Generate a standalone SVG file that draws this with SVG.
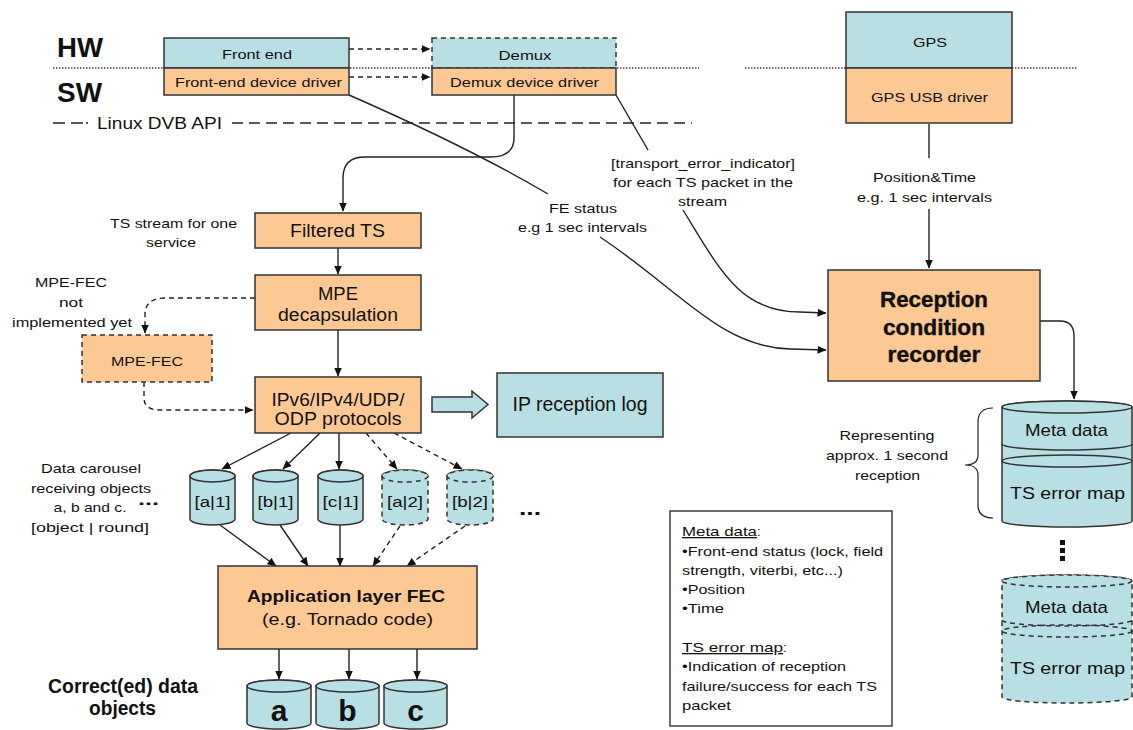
<svg xmlns="http://www.w3.org/2000/svg" width="1133" height="730" viewBox="0 0 1133 730">
  <style>
    .blue { fill: #b8dfe3; stroke: #333; stroke-width: 1.5; }
    .orange { fill: #fcc995; stroke: #333; stroke-width: 1.5; }
    .dashed { stroke-dasharray: 5 4; }
    .t { font-family: "Liberation Sans", Arial, sans-serif; fill: #111; }
    .c { text-anchor: middle; }
    .b { font-weight: bold; }
    .conn { fill: none; stroke: #222; stroke-width: 1.4; }
    .inner { fill: none; stroke: #333; stroke-width: 1.5; }
  </style>
  <defs>
    <marker id="arrow" markerWidth="9" markerHeight="8" refX="8.5" refY="4" orient="auto" markerUnits="userSpaceOnUse">
      <path d="M0,0 L9,4 L0,8 Z" fill="#111"/>
    </marker>
  </defs>

  <rect width="1133" height="730" fill="#ffffff"/>

  <!-- layer separators -->
  <g id="layers">
    <text class="t b" x="57" y="57" font-size="28" textLength="46" lengthAdjust="spacingAndGlyphs">HW</text>
    <text class="t b" x="57" y="102" font-size="28" textLength="45" lengthAdjust="spacingAndGlyphs">SW</text>
    <g stroke="#444" stroke-width="1.5" stroke-dasharray="1.5 1.5" fill="none">
      <line x1="53" y1="68" x2="699" y2="68"/>
      <line x1="745" y1="68" x2="846" y2="68"/>
      <line x1="1012" y1="68" x2="1078" y2="68"/>
    </g>
    <g stroke="#222" stroke-width="1.4" fill="none">
      <line x1="53" y1="123" x2="91" y2="123" stroke-dasharray="12 6 12 3 2 10"/>
      <line x1="232" y1="123" x2="692" y2="123" stroke-dasharray="11 6"/>
    </g>
    <text class="t" x="97" y="129" font-size="16" textLength="125" lengthAdjust="spacingAndGlyphs">Linux DVB API</text>
  </g>

  <!-- connectors -->
  <g id="connectors" class="conn">
    <path d="M349,49 L430,49" stroke-dasharray="5 4" marker-end="url(#arrow)"/>
    <path d="M349,77 L430,77" stroke-dasharray="5 4" marker-end="url(#arrow)"/>
    <path d="M514,95 L514,138 Q514,157 490,157 L365,157 Q343,157 343,178 L343,211" marker-end="url(#arrow)"/>
    <path d="M349,95 Q470,148 548,194"/>
    <path d="M600,237 C680,290 720,347 790,349 L826,350" marker-end="url(#arrow)"/>
    <path d="M616,95 L648,150"/>
    <path d="M683,210 C720,270 740,312 800,312 L826,313" marker-end="url(#arrow)"/>
    <path d="M929,124 L929,158"/>
    <path d="M929,209 L929,268" marker-end="url(#arrow)"/>
    <path d="M1040,321 L1060,321 Q1074,321 1074,336 L1074,399" marker-end="url(#arrow)"/>
    <path d="M338,248 L338,274" marker-end="url(#arrow)"/>
    <path d="M338,330 L338,376" marker-end="url(#arrow)"/>
    <path d="M255,298 L165,298 Q145,298 145,315 L145,333" stroke-dasharray="5 4" marker-end="url(#arrow)"/>
    <path d="M144,382 L144,398 Q144,410 160,410 L253,410" stroke-dasharray="5 4" marker-end="url(#arrow)"/>
    <path d="M291,433 L222,469" marker-end="url(#arrow)"/>
    <path d="M320,433 L283,469" marker-end="url(#arrow)"/>
    <path d="M339,433 L339,469" marker-end="url(#arrow)"/>
    <path d="M366,433 L397,469" stroke-dasharray="5 4" marker-end="url(#arrow)"/>
    <path d="M394,433 L462,469" stroke-dasharray="5 4" marker-end="url(#arrow)"/>
    <path d="M220,525 L276,566" marker-end="url(#arrow)"/>
    <path d="M280,525 L308,566" marker-end="url(#arrow)"/>
    <path d="M340,525 L340,566" marker-end="url(#arrow)"/>
    <path d="M400,526 L373,566" stroke-dasharray="5 4" marker-end="url(#arrow)"/>
    <path d="M465,526 L407,566" stroke-dasharray="5 4" marker-end="url(#arrow)"/>
    <path d="M279,649 L279,679" marker-end="url(#arrow)"/>
    <path d="M349,649 L349,679" marker-end="url(#arrow)"/>
    <path d="M417,649 L417,679" marker-end="url(#arrow)"/>
    <path d="M993,408 Q978,408 978,422 L978,455 Q978,465 965,465 Q978,465 978,475 L978,505 Q978,518 993,518" stroke-width="1.2"/>
  </g>

  <!-- connector labels -->
  <g id="labels" class="t c" font-size="13">
    <text x="703" y="167.5" textLength="184" lengthAdjust="spacingAndGlyphs">[transport_error_indicator]</text>
    <text x="703" y="186.5" textLength="180" lengthAdjust="spacingAndGlyphs">for each TS packet in the</text>
    <text x="702.5" y="205.5" textLength="49" lengthAdjust="spacingAndGlyphs">stream</text>
    <text x="583" y="212.5" textLength="68" lengthAdjust="spacingAndGlyphs">FE status</text>
    <text x="582.5" y="231.5" textLength="129" lengthAdjust="spacingAndGlyphs">e.g 1 sec intervals</text>
    <text x="924.5" y="181.5" textLength="103" lengthAdjust="spacingAndGlyphs">Position&amp;Time</text>
    <text x="924.5" y="201.5" textLength="135" lengthAdjust="spacingAndGlyphs">e.g. 1 sec intervals</text>
    <text x="173.5" y="227.5" textLength="127" lengthAdjust="spacingAndGlyphs">TS stream for one</text>
    <text x="171" y="246.5" textLength="50" lengthAdjust="spacingAndGlyphs">service</text>
    <text x="71" y="286.5" textLength="72" lengthAdjust="spacingAndGlyphs">MPE-FEC</text>
    <text x="71" y="306.5" textLength="24" lengthAdjust="spacingAndGlyphs">not</text>
    <text x="72" y="326.5" textLength="120" lengthAdjust="spacingAndGlyphs">implemented yet</text>
    <text x="91" y="472.5" textLength="100" lengthAdjust="spacingAndGlyphs">Data carousel</text>
    <text x="91" y="492.5" textLength="120" lengthAdjust="spacingAndGlyphs">receiving objects</text>
    <text x="90" y="511.5" textLength="73" lengthAdjust="spacingAndGlyphs">a, b and c.</text>
    <text x="90" y="531.5" textLength="118" lengthAdjust="spacingAndGlyphs">[object | round]</text>
    <text x="148.5" y="505" class="b" font-size="16" textLength="21" lengthAdjust="spacingAndGlyphs">...</text>
    <text x="530" y="515" class="b" font-size="20" textLength="22" lengthAdjust="spacingAndGlyphs">...</text>
    <text x="887" y="439.5" textLength="95" lengthAdjust="spacingAndGlyphs">Representing</text>
    <text x="887" y="459.5" textLength="122" lengthAdjust="spacingAndGlyphs">approx. 1 second</text>
    <text x="887.5" y="479.5" textLength="65" lengthAdjust="spacingAndGlyphs">reception</text>
    <text x="123" y="693" class="b" font-size="20" textLength="150" lengthAdjust="spacingAndGlyphs">Correct(ed) data</text>
    <text x="122.5" y="715" class="b" font-size="20" textLength="67" lengthAdjust="spacingAndGlyphs">objects</text>
  </g>

  <g id="front-end">
    <rect class="blue" x="164" y="38" width="185" height="30"/>
    <text class="t c" x="257" y="58.5" font-size="13" textLength="70" lengthAdjust="spacingAndGlyphs">Front end</text>
  </g>
  <g id="front-end-driver">
    <rect class="orange" x="164" y="68" width="185" height="27"/>
    <text class="t c" x="258.5" y="86.5" font-size="13" textLength="167" lengthAdjust="spacingAndGlyphs">Front-end device driver</text>
  </g>
  <g id="demux">
    <rect class="blue dashed" x="432" y="38" width="184" height="30"/>
    <text class="t c" x="525" y="59.5" font-size="13" textLength="53" lengthAdjust="spacingAndGlyphs">Demux</text>
  </g>
  <g id="demux-driver">
    <rect class="orange" x="432" y="68" width="184" height="27"/>
    <text class="t c" x="524.5" y="86.5" font-size="13" textLength="149" lengthAdjust="spacingAndGlyphs">Demux device driver</text>
  </g>
  <g id="gps">
    <rect class="blue" x="846" y="12" width="166" height="56"/>
    <text class="t c" x="930" y="46.5" font-size="13" textLength="34" lengthAdjust="spacingAndGlyphs">GPS</text>
  </g>
  <g id="gps-driver">
    <rect class="orange" x="846" y="68" width="166" height="55"/>
    <text class="t c" x="929.5" y="101.5" font-size="13" textLength="117" lengthAdjust="spacingAndGlyphs">GPS USB driver</text>
  </g>
  <g id="recorder">
    <rect class="orange" x="828" y="270" width="212" height="111"/>
    <g class="t c b" font-size="22" stroke="#111" stroke-width="0.4">
      <text x="934" y="307" textLength="108" lengthAdjust="spacingAndGlyphs">Reception</text>
      <text x="934" y="335" textLength="102" lengthAdjust="spacingAndGlyphs">condition</text>
      <text x="934" y="362" textLength="93" lengthAdjust="spacingAndGlyphs">recorder</text>
    </g>
  </g>
  <g id="filtered-ts">
    <rect class="orange" x="255" y="213" width="166" height="35"/>
    <text class="t c" x="337.5" y="237" font-size="18" textLength="95" lengthAdjust="spacingAndGlyphs">Filtered TS</text>
  </g>
  <g id="mpe">
    <rect class="orange" x="255" y="275" width="166" height="55"/>
    <text class="t c" x="338" y="299.5" font-size="18" textLength="40" lengthAdjust="spacingAndGlyphs">MPE</text>
    <text class="t c" x="338" y="320.5" font-size="18" textLength="120" lengthAdjust="spacingAndGlyphs">decapsulation</text>
  </g>
  <g id="mpe-fec">
    <rect class="orange dashed" x="82" y="335" width="130" height="47"/>
    <text class="t c" x="147" y="365.5" font-size="13" textLength="72" lengthAdjust="spacingAndGlyphs">MPE-FEC</text>
  </g>
  <g id="ip-protocols">
    <rect class="orange" x="255" y="377" width="166" height="56"/>
    <text class="t c" x="338" y="406" font-size="18" textLength="133" lengthAdjust="spacingAndGlyphs">IPv6/IPv4/UDP/</text>
    <text class="t c" x="338" y="425" font-size="18" textLength="127" lengthAdjust="spacingAndGlyphs">ODP protocols</text>
  </g>
  <g id="ip-log-arrow">
    <polygon class="blue" points="432,397 472,397 472,391 488,404.5 472,418 472,412 432,412" stroke-width="1.3"/>
  </g>
  <g id="ip-log">
    <rect class="blue" x="497" y="373" width="166" height="64"/>
    <text class="t c" x="580" y="411" font-size="20" textLength="135" lengthAdjust="spacingAndGlyphs">IP reception log</text>
  </g>

  <!-- carousel objects -->
  <g id="obj-a1">
    <path class="blue" d="M190,476 A22.5,6 0 0 1 235,476 L235,519 A22.5,6 0 0 1 190,519 Z"/>
    <ellipse class="blue" cx="212.5" cy="476" rx="22.5" ry="6"/>
    <text class="t c" x="212.5" y="507" font-size="14" textLength="36" lengthAdjust="spacingAndGlyphs">[a|1]</text>
  </g>
  <g id="obj-b1">
    <path class="blue" d="M253,476 A22.5,6 0 0 1 298,476 L298,519 A22.5,6 0 0 1 253,519 Z"/>
    <ellipse class="blue" cx="275.5" cy="476" rx="22.5" ry="6"/>
    <text class="t c" x="275.5" y="507" font-size="14" textLength="36" lengthAdjust="spacingAndGlyphs">[b|1]</text>
  </g>
  <g id="obj-c1">
    <path class="blue" d="M318,476 A22.5,6 0 0 1 363,476 L363,519 A22.5,6 0 0 1 318,519 Z"/>
    <ellipse class="blue" cx="340.5" cy="476" rx="22.5" ry="6"/>
    <text class="t c" x="340.5" y="507" font-size="14" textLength="36" lengthAdjust="spacingAndGlyphs">[c|1]</text>
  </g>
  <g id="obj-a2">
    <path class="blue dashed" d="M382,476 A23,6 0 0 1 428,476 L428,519 A23,6 0 0 1 382,519 Z"/>
    <ellipse class="blue dashed" cx="405" cy="476" rx="23" ry="6"/>
    <text class="t c" x="405" y="507" font-size="14" textLength="36" lengthAdjust="spacingAndGlyphs">[a|2]</text>
  </g>
  <g id="obj-b2">
    <path class="blue dashed" d="M447,476 A23,6 0 0 1 493,476 L493,519 A23,6 0 0 1 447,519 Z"/>
    <ellipse class="blue dashed" cx="470" cy="476" rx="23" ry="6"/>
    <text class="t c" x="470" y="507" font-size="14" textLength="36" lengthAdjust="spacingAndGlyphs">[b|2]</text>
  </g>

  <g id="app-fec">
    <rect class="orange" x="218" y="566" width="259" height="83"/>
    <text class="t c b" x="346" y="602" font-size="17" textLength="198" lengthAdjust="spacingAndGlyphs">Application layer FEC</text>
    <text class="t c" x="347.5" y="625" font-size="17" textLength="171" lengthAdjust="spacingAndGlyphs">(e.g. Tornado code)</text>
  </g>

  <!-- corrected objects -->
  <g id="out-a">
    <path class="blue" d="M247,686 A32,6 0 0 1 311,686 L311,723 A32,6 0 0 1 247,723 Z"/>
    <ellipse class="blue" cx="279" cy="686" rx="32" ry="6"/>
    <text class="t c b" x="279" y="721" font-size="30">a</text>
  </g>
  <g id="out-b">
    <path class="blue" d="M316,686 A31.5,6 0 0 1 379,686 L379,723 A31.5,6 0 0 1 316,723 Z"/>
    <ellipse class="blue" cx="347.5" cy="686" rx="31.5" ry="6"/>
    <text class="t c b" x="347.5" y="721" font-size="30">b</text>
  </g>
  <g id="out-c">
    <path class="blue" d="M384,686 A31.5,6 0 0 1 447,686 L447,723 A31.5,6 0 0 1 384,723 Z"/>
    <ellipse class="blue" cx="415.5" cy="686" rx="31.5" ry="6"/>
    <text class="t c b" x="415.5" y="721" font-size="30">c</text>
  </g>

  <!-- reception records -->
  <g id="record-1">
    <path class="blue" d="M1002,407 A65,6 0 0 1 1132,407 L1132,521 A65,6 0 0 1 1002,521 Z"/>
    <ellipse class="blue" cx="1067" cy="407" rx="65" ry="6"/>
    <path class="inner" d="M1002,444 A65,6 0 0 0 1132,444"/>
    <ellipse class="inner" cx="1067" cy="461" rx="65" ry="6"/>
    <text class="t c" x="1066.5" y="436" font-size="17" textLength="83" lengthAdjust="spacingAndGlyphs">Meta data</text>
    <text class="t c" x="1067.5" y="499" font-size="17" textLength="115" lengthAdjust="spacingAndGlyphs">TS error map</text>
  </g>
  <g id="record-gap" fill="#111">
    <rect x="1060" y="540" width="5" height="5"/>
    <rect x="1060" y="548" width="5" height="5"/>
    <rect x="1060" y="556" width="5" height="5"/>
  </g>
  <g id="record-n">
    <path class="blue dashed" d="M1002,581 A65,6 0 0 1 1132,581 L1132,697 A65,6 0 0 1 1002,697 Z"/>
    <ellipse class="blue dashed" cx="1067" cy="581" rx="65" ry="6"/>
    <path class="inner dashed" d="M1002,620 A65,6 0 0 0 1132,620"/>
    <ellipse class="inner dashed" cx="1067" cy="631" rx="65" ry="6"/>
    <text class="t c" x="1066.5" y="613" font-size="17" textLength="83" lengthAdjust="spacingAndGlyphs">Meta data</text>
    <text class="t c" x="1067.5" y="674" font-size="17" textLength="115" lengthAdjust="spacingAndGlyphs">TS error map</text>
  </g>

  <!-- legend -->
  <g id="legend">
    <rect x="670" y="511" width="222" height="215" fill="#fff" stroke="#222" stroke-width="1.3"/>
    <g class="t" font-size="13">
      <text x="682" y="536"><tspan text-decoration="underline" textLength="75" lengthAdjust="spacingAndGlyphs">Meta data</tspan>:</text>
      <text x="682" y="556" textLength="201" lengthAdjust="spacingAndGlyphs">•Front-end status (lock, field</text>
      <text x="682" y="575" textLength="161" lengthAdjust="spacingAndGlyphs">strength, viterbi, etc...)</text>
      <text x="682" y="594" textLength="63" lengthAdjust="spacingAndGlyphs">•Position</text>
      <text x="682" y="613" textLength="42" lengthAdjust="spacingAndGlyphs">•Time</text>
      <text x="682" y="652"><tspan text-decoration="underline" textLength="101" lengthAdjust="spacingAndGlyphs">TS error map</tspan>:</text>
      <text x="682" y="671" textLength="164" lengthAdjust="spacingAndGlyphs">•Indication of reception</text>
      <text x="682" y="691" textLength="195" lengthAdjust="spacingAndGlyphs">failure/success for each TS</text>
      <text x="682" y="710" textLength="49" lengthAdjust="spacingAndGlyphs">packet</text>
    </g>
  </g>
</svg>
